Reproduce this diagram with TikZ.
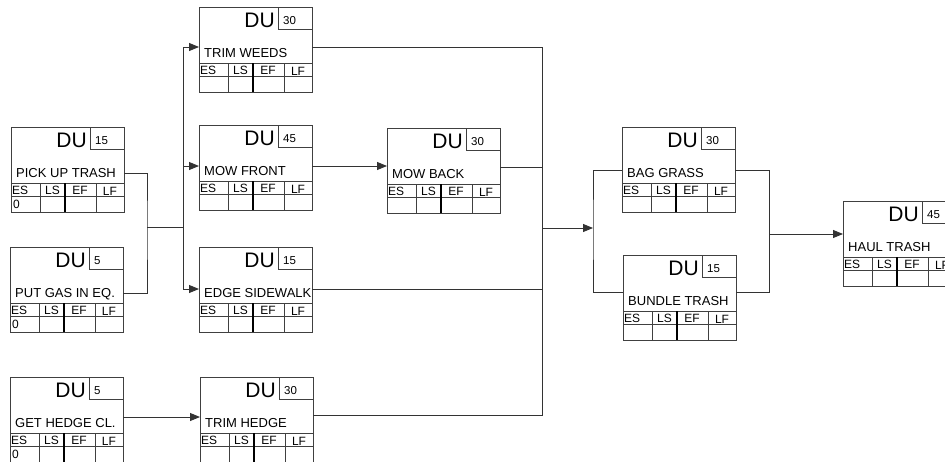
\documentclass[tikz,border=0pt]{standalone}
\usepackage{fontspec}
\setmainfont{Liberation Sans}
\usetikzlibrary{arrows.meta}

\tikzset{
  taskbox/.style={draw=black!75, line width=0.9pt, minimum width=113pt, minimum height=85pt, inner sep=0pt, outer sep=0pt},
  cell/.style={draw=black!75, line width=0.9pt},
  divider/.style={line width=2.6pt},
  link/.style={draw=black!80, line width=0.9pt},
  arrow/.style={link, -{Triangle[length=10pt,width=8pt]}},
  dutext/.style={font=\fontsize{21}{21}\selectfont, anchor=base east, inner sep=0pt},
  durtext/.style={font=\fontsize{11.5}{11.5}\selectfont, anchor=base west, inner sep=0pt},
  nametext/.style={font=\fontsize{13}{13}\selectfont, anchor=base west, inner sep=0pt},
  celltext/.style={font=\fontsize{12}{12}\selectfont, anchor=base, inner sep=0pt},
}

% #1 height of in/out, #2 name, #3 x, #4 y, #5 task, #6 duration, #7 ES
\newcommand{\activity}[7][41]{%
  \node[taskbox, anchor=north west] (#2) at (#3,#4) {};
  \begin{scope}[shift={(#3,#4)}]
    \draw[cell] (79,0) rectangle (113,22);
    \draw[cell] (0,56) -- (113,56) (0,69) -- (113,69);
    \draw[cell] (29,56) -- (29,85) (85,56) -- (85,85);
    \draw[divider] (54,56) -- (54,85);
    \node[dutext] (#2-du) at (76,20) {DU};
    \node[durtext] (#2-dur) at (84,17) {#6};
    \node[nametext] (#2-name) at (5,50) {#5};
    \node[celltext, anchor=base west] (#2-es) at (1,67) {ES};
    \node[celltext] (#2-ls) at (41.5,67) {LS};
    \node[celltext] (#2-ef) at (69,67) {EF};
    \node[celltext] (#2-lf) at (99,68) {LF};
    \node[celltext, anchor=base west] (#2-start) at (2,81) {#7};
    \coordinate (#2-in) at (0,#1);
    \coordinate (#2-out) at (113,#1);
  \end{scope}}

\begin{document}
\begin{tikzpicture}[x=1pt, y=-1pt]
  \useasboundingbox (0,0) rectangle (945,461);
  \clip (0,0) rectangle (945,461);

  \activity[46]{pick}{11}{127}{PICK UP TRASH}{15}{0}
  \activity[46]{gas}{10}{247}{PUT GAS IN EQ.}{5}{0}
  \activity[40]{hedgecl}{10}{377}{GET HEDGE CL.}{5}{0}

  \activity[40]{weeds}{199}{7}{TRIM WEEDS}{30}{}
  \activity[41]{front}{199}{125}{MOW FRONT}{45}{}
  \activity[42]{edge}{199}{247}{EDGE SIDEWALK}{15}{}
  \activity[38]{trimhedge}{200}{377}{TRIM HEDGE}{30}{}

  \activity[39]{back}{387}{128}{MOW BACK}{30}{}

  \activity[43]{bag}{622}{127}{BAG GRASS}{30}{}
  \activity[37]{bundle}{623}{255}{BUNDLE TRASH}{15}{}

  \activity[33]{haul}{843}{201}{HAUL TRASH}{45}{}

  % junction points
  \coordinate (join1) at (147,227);
  \coordinate (bus1) at (183,227);
  \coordinate (join2) at (542,228);
  \coordinate (split2) at (593,228);
  \coordinate (join3) at (769,234);

  % connectors
  \draw[link] (pick-out) -| (join1) |- (gas-out);
  \draw[link] (join1) -- (bus1);
  \draw[arrow] (bus1) |- (weeds-in);
  \draw[arrow] (bus1) |- (front-in);
  \draw[arrow] (bus1) |- (edge-in);

  \draw[arrow] (front-out) -- (back-in |- front-out);
  \draw[arrow] (hedgecl-out) -- (trimhedge-in |- hedgecl-out);

  \draw[link] (weeds-out) -| (join2);
  \draw[link] (back-out) -| (join2);
  \draw[link] (edge-out) -| (join2);
  \draw[link] (trimhedge-out) -| (join2);
  \draw[arrow] (join2) -- (split2);
  \draw[link] (bag-in) -| (split2) |- (bundle-in);

  \draw[link] (bag-out) -| (join3);
  \draw[link] (bundle-out) -| (join3);
  \draw[arrow] (join3) -- (haul-in |- join3);
\end{tikzpicture}
\end{document}
